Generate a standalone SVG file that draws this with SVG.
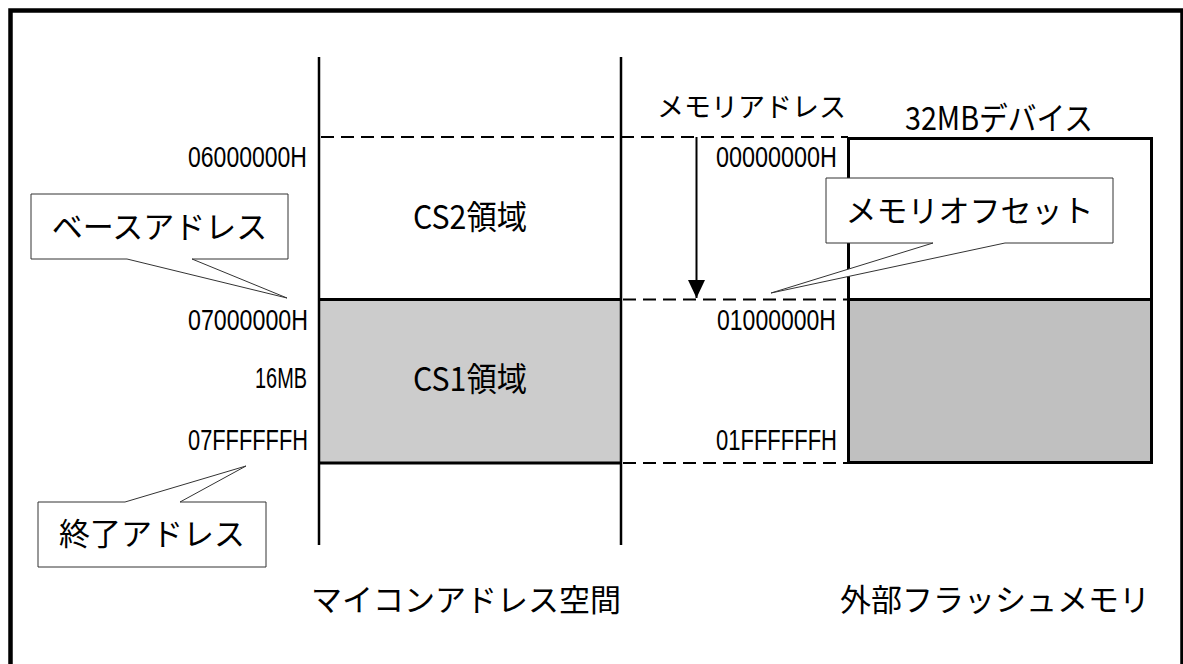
<svg xmlns="http://www.w3.org/2000/svg" width="1183" height="664" viewBox="0 0 1183 664">
<style>
.num{font-family:"Liberation Sans",Arial,sans-serif;font-size:29px;fill:#000}
.jp{font-family:"Noto Sans CJK JP","Noto Sans",sans-serif;fill:#000}
.call{fill:#fff;stroke:#333;stroke-width:1}
.thick{stroke:#000;stroke-width:3;fill:none}
.vline{stroke:#000;stroke-width:2.5;fill:none}
.dash{stroke:#000;stroke-width:2;stroke-dasharray:13 7;fill:none}
</style>
<defs>
<marker id="ah" markerUnits="userSpaceOnUse" viewBox="0 0 18 17" refX="18" refY="8.5" markerWidth="18" markerHeight="17" orient="auto">
<path d="M0,0 L18,8.5 L0,17 Z" fill="#000"/>
</marker>
</defs>
<rect x="0" y="0" width="1183" height="664" fill="#fff"/>
<rect x="10.5" y="10.5" width="1172" height="700" fill="none" stroke="#000" stroke-width="4.5"/>

<g id="cs1-area">
<rect x="319" y="299.5" width="302" height="163.5" fill="#cccccc"/>
</g>
<g id="device">
<rect x="848.5" y="299.5" width="303" height="163" fill="#c0c0c0"/>
<rect x="848.5" y="138.5" width="303" height="324" class="thick"/>
<line x1="848.5" y1="299.5" x2="1151.5" y2="299.5" class="thick"/>
<text class="jp" x="905" y="130" font-size="32" textLength="188" lengthAdjust="spacingAndGlyphs">32MBデバイス</text>
</g>

<g id="connectors">
<line x1="319" y1="57" x2="319" y2="545" class="vline"/>
<line x1="621" y1="57" x2="621" y2="545" class="vline"/>
<line x1="319" y1="299.5" x2="621" y2="299.5" class="thick"/>
<line x1="319" y1="463" x2="621" y2="463" class="thick"/>
<line x1="321" y1="137" x2="848" y2="137" class="dash"/>
<line x1="623" y1="299.5" x2="848" y2="299.5" class="dash"/>
<line x1="623" y1="463" x2="848" y2="463" class="dash"/>
<line x1="696.5" y1="137" x2="696.5" y2="298" stroke="#000" stroke-width="2" marker-end="url(#ah)"/>
</g>

<g id="cs2-label">
<text class="jp" x="413" y="229" font-size="33" textLength="114" lengthAdjust="spacingAndGlyphs">CS2領域</text>
</g>
<g id="cs1-label">
<text class="jp" x="413" y="391" font-size="33" textLength="114" lengthAdjust="spacingAndGlyphs">CS1領域</text>
</g>

<g id="addresses-left">
<text class="num" x="188" y="167" textLength="119" lengthAdjust="spacingAndGlyphs">06000000H</text>
<text class="num" x="188" y="330" textLength="120" lengthAdjust="spacingAndGlyphs">07000000H</text>
<text class="num" x="255" y="388" textLength="52" lengthAdjust="spacingAndGlyphs">16MB</text>
<text class="num" x="188" y="450" textLength="120" lengthAdjust="spacingAndGlyphs">07FFFFFFH</text>
</g>
<g id="addresses-right">
<text class="num" x="716" y="167" textLength="121" lengthAdjust="spacingAndGlyphs">00000000H</text>
<text class="num" x="717" y="330" textLength="119" lengthAdjust="spacingAndGlyphs">01000000H</text>
<text class="num" x="716" y="450" textLength="121" lengthAdjust="spacingAndGlyphs">01FFFFFFH</text>
</g>

<g id="memory-address-label">
<text class="jp" x="657" y="117" font-size="27">メモリアドレス</text>
</g>

<g id="callout-base">
<path class="call" d="M31,194 H288 V259 H192 L287,298 L127,259 H31 Z"/>
<text class="jp" x="159.5" y="238" font-size="31" text-anchor="middle">ベースアドレス</text>
</g>
<g id="callout-end">
<path class="call" d="M38,502 H125 L246,466 L180,502 H266 V567 H38 Z"/>
<text class="jp" x="152" y="545" font-size="31" text-anchor="middle">終了アドレス</text>
</g>
<g id="callout-offset">
<path class="call" d="M826,178 H1113 V243 H1005 L771,293 L933,243 H826 Z"/>
<text class="jp" x="969.5" y="222" font-size="31" text-anchor="middle">メモリオフセット</text>
</g>

<g id="title-mcu">
<text class="jp" x="311" y="611" font-size="31">マイコンアドレス空間</text>
</g>
<g id="title-flash">
<text class="jp" x="840" y="611" font-size="31">外部フラッシュメモリ</text>
</g>
</svg>
